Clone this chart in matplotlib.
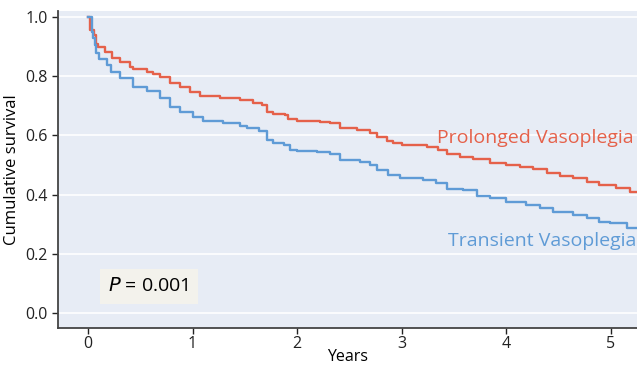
import numpy as np
import matplotlib.pyplot as plt

plt.rcParams['font.family'] = ['Open Sans', 'DejaVu Sans']

# Kaplan-Meier estimates (years, survival)
t_prolonged = [0.0, 0.02, 0.06, 0.08, 0.10, 0.16, 0.23, 0.31, 0.40, 0.43, 0.56, 0.62,
               0.69, 0.78, 0.88, 0.98, 1.07, 1.26, 1.45, 1.58, 1.66, 1.71, 1.77, 1.88,
               1.91, 2.0, 2.22, 2.31, 2.41, 2.57, 2.70, 2.76, 2.86, 2.92, 3.0, 3.14,
               3.24, 3.35, 3.43, 3.56, 3.68, 3.84, 4.0, 4.13, 4.26, 4.39, 4.51, 4.64,
               4.77, 4.89, 5.05, 5.18, 5.25]
s_prolonged = [1.0, 0.956, 0.94, 0.91, 0.90, 0.883, 0.86, 0.849, 0.832, 0.824, 0.815, 0.807,
               0.796, 0.776, 0.762, 0.748, 0.734, 0.727, 0.72, 0.71, 0.703, 0.68, 0.672, 0.669,
               0.654, 0.649, 0.644, 0.641, 0.626, 0.618, 0.609, 0.596, 0.582, 0.573, 0.568, 0.567,
               0.56, 0.551, 0.536, 0.528, 0.519, 0.508, 0.5, 0.494, 0.485, 0.472, 0.463, 0.455,
               0.444, 0.432, 0.421, 0.41, 0.41]

t_transient = [0.0, 0.035, 0.05, 0.07, 0.08, 0.11, 0.18, 0.22, 0.31, 0.43, 0.56, 0.69,
               0.78, 0.88, 1.0, 1.1, 1.29, 1.45, 1.52, 1.64, 1.71, 1.77, 1.87, 1.93,
               2.0, 2.19, 2.31, 2.41, 2.6, 2.70, 2.76, 2.87, 2.98, 3.2, 3.33, 3.43,
               3.59, 3.72, 3.84, 4.0, 4.19, 4.32, 4.45, 4.64, 4.77, 4.89, 4.99, 5.15,
               5.25]
s_transient = [1.0, 0.95, 0.93, 0.905, 0.877, 0.857, 0.838, 0.815, 0.793, 0.765, 0.751, 0.725,
               0.697, 0.68, 0.661, 0.65, 0.641, 0.632, 0.624, 0.614, 0.586, 0.573, 0.568, 0.551,
               0.547, 0.543, 0.536, 0.517, 0.511, 0.5, 0.483, 0.466, 0.455, 0.449, 0.438, 0.42,
               0.416, 0.395, 0.387, 0.376, 0.365, 0.354, 0.342, 0.331, 0.32, 0.308, 0.303, 0.286,
               0.286]

red = '#e5614a'
blue = '#5f9bd6'

fig = plt.figure(figsize=(6.37, 3.68), dpi=100)
ax = fig.add_axes([0.091, 0.109, 0.909, 0.861])
ax.set_facecolor('#e7ecf5')

ax.step(t_prolonged, s_prolonged, where='post', color=red, lw=1.7)
ax.step(t_transient, s_transient, where='post', color=blue, lw=1.7)

ax.set_xlim(-0.287, 5.25)
ax.set_ylim(-0.05, 1.02)
ax.set_yticks(np.arange(0, 1.01, 0.2))
ax.set_yticklabels(['0.0', '0.2', '0.4', '0.6', '0.8', '1.0'])
ax.set_xticks([0, 1, 2, 3, 4, 5])
ax.grid(axis='y', color='white', lw=1.2)
ax.set_axisbelow(True)

for side in ['top', 'right']:
    ax.spines[side].set_visible(False)
for side in ['left', 'bottom']:
    ax.spines[side].set_color('#444444')
    ax.spines[side].set_linewidth(1.3)
ax.tick_params(colors='#222222', labelsize=11.5, length=4, width=1)
ax.tick_params(axis='x', pad=2)

ax.set_ylabel('Cumulative survival', fontsize=12, labelpad=4)
ax.set_xlabel('Years', fontsize=11.5, labelpad=-2)

ax.text(3.34, 0.59, 'Prolonged Vasoplegia', color=red, fontsize=14, va='center', ha='left')
ax.text(3.44, 0.245, 'Transient Vasoplegia', color=blue, fontsize=14, va='center', ha='left')

ax.text(0.58, 0.09, '$P$ = 0.001', fontsize=14, va='center', ha='center',
        bbox=dict(boxstyle='square,pad=0.45', fc='#f3f2ec', ec='none'))

fig.savefig('out.png', dpi=100)
